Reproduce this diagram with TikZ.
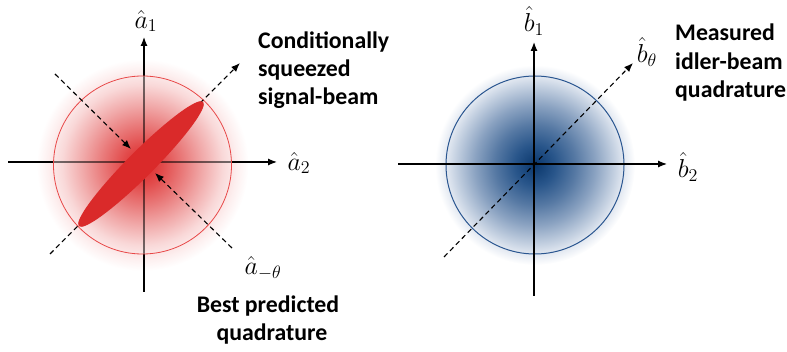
\documentclass[tikz,border=0pt]{standalone}
\usepackage{fontspec}
\newfontfamily\lab{Carlito}
\usetikzlibrary{arrows.meta}
\definecolor{ellred}{HTML}{DA2A2A}
\definecolor{circred}{HTML}{E84848}
\definecolor{circblue}{HTML}{2A5690}
\definecolor{rgA}{HTML}{DB2626}
\definecolor{rgB}{HTML}{E24B4B}
\definecolor{rgC}{HTML}{E97979}
\definecolor{rgD}{HTML}{F1AAAA}
\definecolor{rgE}{HTML}{F9D8D8}
\definecolor{rgF}{HTML}{FDF0F0}
\definecolor{bgA}{HTML}{0A376C}
\definecolor{bgB}{HTML}{28558A}
\definecolor{bgC}{HTML}{5578A3}
\definecolor{bgD}{HTML}{8AA2C1}
\definecolor{bgE}{HTML}{C6D2E2}
\definecolor{bgF}{HTML}{E2E8F1}
\pgfdeclareradialshading{redglow}{\pgfpoint{0bp}{0bp}}{color(0bp)=(rgA); color(4.7bp)=(rgB); color(9.4bp)=(rgC); color(14.2bp)=(rgD); color(18.9bp)=(rgE); color(22.4bp)=(rgF); color(25bp)=(white); color(50bp)=(white)}
\pgfdeclareradialshading{blueglow}{\pgfpoint{0bp}{0bp}}{color(0bp)=(bgA); color(5bp)=(bgB); color(10bp)=(bgC); color(15bp)=(bgD); color(20bp)=(bgE); color(22.25bp)=(bgF); color(25bp)=(white); color(50bp)=(white)}
\newcommand{\mlb}[1]{\scalebox{1.25}{\fontsize{20.74}{24}\selectfont$#1$}}
\begin{document}
\begin{tikzpicture}[x=1pt,y=-1pt,
  axis/.style={line width=1.2pt,-{Latex[length=9pt,width=7pt]}},
  axisin/.style={line width=1.2pt,draw opacity=0.55},
  axisout/.style={line width=1.2pt},
  dsh/.style={line width=1.1pt,dash pattern=on 5pt off 3.5pt,-{Latex[length=9pt,width=7pt]}},
  mlab/.style={inner sep=0pt},
  tlab/.style={font=\lab\bfseries\fontsize{23.8}{28}\selectfont,inner sep=0pt}]
\useasboundingbox (0,0) rectangle (787,352);
% ---------- left panel ----------
\coordinate (LC) at (142.5,165);
\coordinate (LE) at (141,164);
\coordinate (Lxl) at (8,162);
\coordinate (Lxa) at (53,162);
\coordinate (Lxb) at (232,162);
\coordinate (Lxr) at (277,162);
\coordinate (Lyb) at (144,292);
\coordinate (Lya) at (144,254);
\coordinate (Lyc) at (144,76);
\coordinate (Lyt) at (144,37);
\shade[shading=redglow] (LC) circle[radius=106];
\draw[axisin] (Lxa) -- (Lxb);
\draw[axisin] (Lya) -- (Lyc);
\draw[axisout] (Lxl) -- (Lxa);
\draw[axis] (Lxb) -- (Lxr);
\draw[axisout] (Lyb) -- (Lya);
\draw[axis] (Lyc) -- (Lyt);
\draw[circred, line width=0.8pt] (LC) circle[radius=89];
\coordinate (Ld1) at (50,254);
\coordinate (Ld2) at (240,63);
\draw[dsh] (Ld1) -- (Ld2);
\fill[ellred, rotate around={45:(LE)}] (LE) ellipse[x radius=88, y radius=13];
\coordinate (Lp1) at (55,74);
\coordinate (Lq1) at (131,149);
\coordinate (Lp2) at (232,248);
\coordinate (Lq2) at (155,173);
\draw[dsh] (Lp1) -- (Lq1);
\draw[dsh] (Lp2) -- (Lq2);
\node[mlab] (a1) at (146,21) {\mlb{\hat a_1}};
\node[mlab] (a2) at (299,163) {\mlb{\hat a_2}};
\node[mlab] (amt) at (263,268) {\mlb{\hat a_{-\theta}}};
\node[tlab, anchor=base west] (c1) at (258,49) {Conditionally};
\node[tlab, anchor=base west] (c2) at (258,77) {squeezed};
\node[tlab, anchor=base west] (c3) at (258,105) {signal-beam};
\node[tlab, anchor=base] (b1) at (268,313) {Best predicted};
\node[tlab, anchor=base] (b2) at (272,341) {quadrature};
% ---------- right panel ----------
\coordinate (RC) at (535,165);
\coordinate (Rxl) at (398,164);
\coordinate (Rxr) at (667,164);
\coordinate (Ryb) at (534,296);
\coordinate (Ryt) at (534,42);
\shade[shading=blueglow] (RC) circle[radius=100];
\draw[circblue, line width=1pt] (RC) circle[radius=89];
\draw[axis] (Rxl) -- (Rxr);
\draw[axis] (Ryb) -- (Ryt);
\coordinate (Rd1) at (444,257);
\coordinate (Rd2) at (633,63);
\draw[dsh] (Rd1) -- (Rd2);
\node[mlab] (b1l) at (534,21) {\mlb{\hat b_1}};
\node[mlab] (btl) at (647,52) {\mlb{\hat b_\theta}};
\node[mlab] (b2l) at (688,167) {\mlb{\hat b_2}};
\node[tlab, anchor=base west] (m1) at (675,41) {Measured};
\node[tlab, anchor=base west] (m2) at (675,70) {idler-beam};
\node[tlab, anchor=base west] (m3) at (675,98) {quadrature};
\end{tikzpicture}
\end{document}
